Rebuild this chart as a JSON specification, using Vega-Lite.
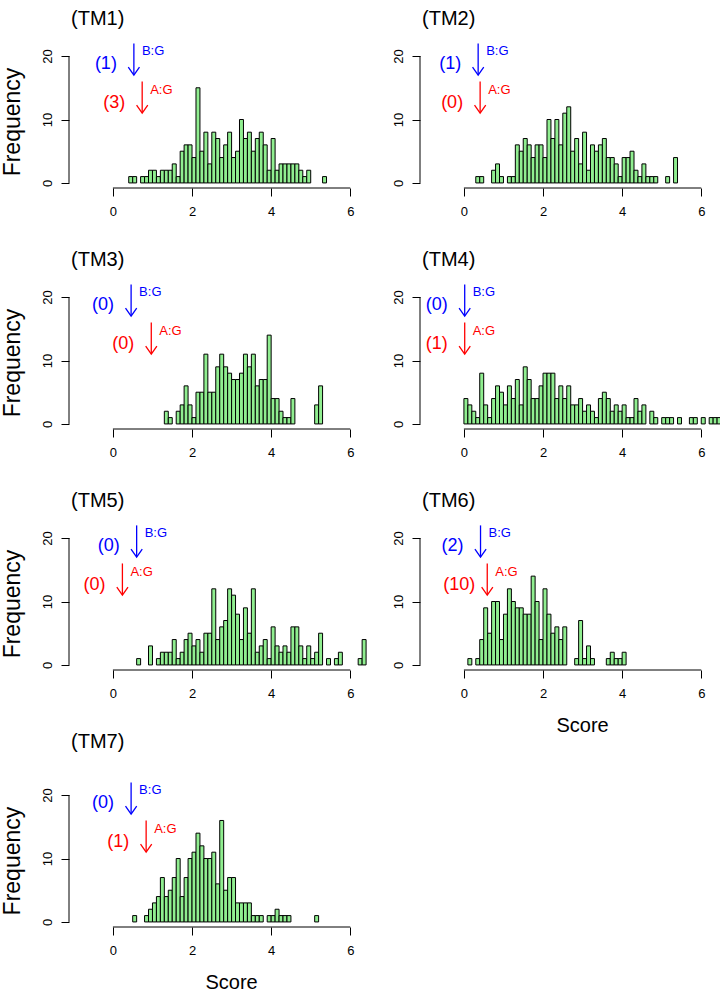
{
"$schema": "https://vega.github.io/schema/vega-lite/v6.json",
"background": "white",
"padding": {"left": 1, "top": 8, "right": 0, "bottom": 0},
"autosize": {"type": "pad"},
"config": {"font": "Liberation Sans", "view": {"stroke": null}, "text": {"baseline": "middle", "align": "center", "color": "black"}, "rule": {"color": "black", "strokeWidth": 1}, "axis": {"labelColor": "black", "tickColor": "black", "labelFont": "Liberation Sans", "grid": false, "domain": false}},
"datasets": {
"all": [
{"panel":"TM1","lo":0.4,"hi":0.5,"count":1},{"panel":"TM1","lo":0.5,"hi":0.6,"count":1},{"panel":"TM1","lo":0.7,"hi":0.8,"count":1},{"panel":"TM1","lo":0.8,"hi":0.9,"count":1},{"panel":"TM1","lo":0.9,"hi":1.0,"count":2},{"panel":"TM1","lo":1.0,"hi":1.1,"count":2},{"panel":"TM1","lo":1.1,"hi":1.2,"count":1},{"panel":"TM1","lo":1.2,"hi":1.3,"count":2},{"panel":"TM1","lo":1.3,"hi":1.4,"count":2},{"panel":"TM1","lo":1.4,"hi":1.5,"count":2},{"panel":"TM1","lo":1.5,"hi":1.6,"count":3},{"panel":"TM1","lo":1.6,"hi":1.7,"count":1},{"panel":"TM1","lo":1.7,"hi":1.8,"count":5},{"panel":"TM1","lo":1.8,"hi":1.9,"count":6},{"panel":"TM1","lo":1.9,"hi":2.0,"count":6},{"panel":"TM1","lo":2.0,"hi":2.1,"count":4},{"panel":"TM1","lo":2.1,"hi":2.2,"count":15},{"panel":"TM1","lo":2.2,"hi":2.3,"count":5},{"panel":"TM1","lo":2.3,"hi":2.4,"count":8},{"panel":"TM1","lo":2.4,"hi":2.5,"count":3},{"panel":"TM1","lo":2.5,"hi":2.6,"count":8},{"panel":"TM1","lo":2.6,"hi":2.7,"count":7},{"panel":"TM1","lo":2.7,"hi":2.8,"count":4},{"panel":"TM1","lo":2.8,"hi":2.9,"count":6},{"panel":"TM1","lo":2.9,"hi":3.0,"count":8},{"panel":"TM1","lo":3.0,"hi":3.1,"count":4},{"panel":"TM1","lo":3.1,"hi":3.2,"count":5},{"panel":"TM1","lo":3.2,"hi":3.3,"count":10},{"panel":"TM1","lo":3.3,"hi":3.4,"count":7},{"panel":"TM1","lo":3.4,"hi":3.5,"count":8},{"panel":"TM1","lo":3.5,"hi":3.6,"count":5},{"panel":"TM1","lo":3.6,"hi":3.7,"count":7},{"panel":"TM1","lo":3.7,"hi":3.8,"count":8},{"panel":"TM1","lo":3.8,"hi":3.9,"count":6},{"panel":"TM1","lo":3.9,"hi":4.0,"count":2},{"panel":"TM1","lo":4.0,"hi":4.1,"count":7},{"panel":"TM1","lo":4.1,"hi":4.2,"count":2},{"panel":"TM1","lo":4.2,"hi":4.3,"count":3},{"panel":"TM1","lo":4.3,"hi":4.4,"count":3},{"panel":"TM1","lo":4.4,"hi":4.5,"count":3},{"panel":"TM1","lo":4.5,"hi":4.6,"count":3},{"panel":"TM1","lo":4.6,"hi":4.7,"count":3},{"panel":"TM1","lo":4.7,"hi":4.8,"count":2},{"panel":"TM1","lo":4.8,"hi":4.9,"count":1},{"panel":"TM1","lo":4.9,"hi":5.0,"count":2},{"panel":"TM1","lo":5.3,"hi":5.4,"count":1},
{"panel":"TM2","lo":0.3,"hi":0.4,"count":1},{"panel":"TM2","lo":0.4,"hi":0.5,"count":1},{"panel":"TM2","lo":0.7,"hi":0.8,"count":2},{"panel":"TM2","lo":0.8,"hi":0.9,"count":3},{"panel":"TM2","lo":0.9,"hi":1.0,"count":1},{"panel":"TM2","lo":1.1,"hi":1.2,"count":1},{"panel":"TM2","lo":1.2,"hi":1.3,"count":1},{"panel":"TM2","lo":1.3,"hi":1.4,"count":6},{"panel":"TM2","lo":1.4,"hi":1.5,"count":5},{"panel":"TM2","lo":1.5,"hi":1.6,"count":7},{"panel":"TM2","lo":1.6,"hi":1.7,"count":6},{"panel":"TM2","lo":1.7,"hi":1.8,"count":4},{"panel":"TM2","lo":1.8,"hi":1.9,"count":6},{"panel":"TM2","lo":1.9,"hi":2.0,"count":6},{"panel":"TM2","lo":2.0,"hi":2.1,"count":4},{"panel":"TM2","lo":2.1,"hi":2.2,"count":10},{"panel":"TM2","lo":2.2,"hi":2.3,"count":7},{"panel":"TM2","lo":2.3,"hi":2.4,"count":10},{"panel":"TM2","lo":2.4,"hi":2.5,"count":6},{"panel":"TM2","lo":2.5,"hi":2.6,"count":11},{"panel":"TM2","lo":2.6,"hi":2.7,"count":12},{"panel":"TM2","lo":2.7,"hi":2.8,"count":5},{"panel":"TM2","lo":2.8,"hi":2.9,"count":7},{"panel":"TM2","lo":2.9,"hi":3.0,"count":3},{"panel":"TM2","lo":3.0,"hi":3.1,"count":8},{"panel":"TM2","lo":3.1,"hi":3.2,"count":2},{"panel":"TM2","lo":3.2,"hi":3.3,"count":6},{"panel":"TM2","lo":3.3,"hi":3.4,"count":5},{"panel":"TM2","lo":3.4,"hi":3.5,"count":6},{"panel":"TM2","lo":3.5,"hi":3.6,"count":7},{"panel":"TM2","lo":3.6,"hi":3.7,"count":4},{"panel":"TM2","lo":3.7,"hi":3.8,"count":4},{"panel":"TM2","lo":3.8,"hi":3.9,"count":3},{"panel":"TM2","lo":3.9,"hi":4.0,"count":1},{"panel":"TM2","lo":4.0,"hi":4.1,"count":4},{"panel":"TM2","lo":4.1,"hi":4.2,"count":4},{"panel":"TM2","lo":4.2,"hi":4.3,"count":5},{"panel":"TM2","lo":4.3,"hi":4.4,"count":2},{"panel":"TM2","lo":4.4,"hi":4.5,"count":1},{"panel":"TM2","lo":4.5,"hi":4.6,"count":3},{"panel":"TM2","lo":4.6,"hi":4.7,"count":1},{"panel":"TM2","lo":4.7,"hi":4.8,"count":1},{"panel":"TM2","lo":4.8,"hi":4.9,"count":1},{"panel":"TM2","lo":5.1,"hi":5.2,"count":1},{"panel":"TM2","lo":5.3,"hi":5.4,"count":4},
{"panel":"TM3","lo":1.3,"hi":1.4,"count":2},{"panel":"TM3","lo":1.4,"hi":1.5,"count":1},{"panel":"TM3","lo":1.6,"hi":1.7,"count":2},{"panel":"TM3","lo":1.7,"hi":1.8,"count":3},{"panel":"TM3","lo":1.8,"hi":1.9,"count":6},{"panel":"TM3","lo":1.9,"hi":2.0,"count":3},{"panel":"TM3","lo":2.0,"hi":2.1,"count":1},{"panel":"TM3","lo":2.1,"hi":2.2,"count":5},{"panel":"TM3","lo":2.2,"hi":2.3,"count":5},{"panel":"TM3","lo":2.3,"hi":2.4,"count":11},{"panel":"TM3","lo":2.4,"hi":2.5,"count":5},{"panel":"TM3","lo":2.5,"hi":2.6,"count":5},{"panel":"TM3","lo":2.6,"hi":2.7,"count":9},{"panel":"TM3","lo":2.7,"hi":2.8,"count":11},{"panel":"TM3","lo":2.8,"hi":2.9,"count":9},{"panel":"TM3","lo":2.9,"hi":3.0,"count":8},{"panel":"TM3","lo":3.0,"hi":3.1,"count":7},{"panel":"TM3","lo":3.1,"hi":3.2,"count":7},{"panel":"TM3","lo":3.2,"hi":3.3,"count":8},{"panel":"TM3","lo":3.3,"hi":3.4,"count":11},{"panel":"TM3","lo":3.4,"hi":3.5,"count":9},{"panel":"TM3","lo":3.5,"hi":3.6,"count":11},{"panel":"TM3","lo":3.6,"hi":3.7,"count":6},{"panel":"TM3","lo":3.7,"hi":3.8,"count":7},{"panel":"TM3","lo":3.8,"hi":3.9,"count":7},{"panel":"TM3","lo":3.9,"hi":4.0,"count":14},{"panel":"TM3","lo":4.0,"hi":4.1,"count":4},{"panel":"TM3","lo":4.1,"hi":4.2,"count":4},{"panel":"TM3","lo":4.2,"hi":4.3,"count":2},{"panel":"TM3","lo":4.3,"hi":4.4,"count":1},{"panel":"TM3","lo":4.4,"hi":4.5,"count":1},{"panel":"TM3","lo":4.5,"hi":4.6,"count":4},{"panel":"TM3","lo":5.1,"hi":5.2,"count":3},{"panel":"TM3","lo":5.2,"hi":5.3,"count":6},
{"panel":"TM4","lo":0.0,"hi":0.1,"count":4},{"panel":"TM4","lo":0.1,"hi":0.2,"count":3},{"panel":"TM4","lo":0.2,"hi":0.3,"count":2},{"panel":"TM4","lo":0.3,"hi":0.4,"count":1},{"panel":"TM4","lo":0.4,"hi":0.5,"count":8},{"panel":"TM4","lo":0.5,"hi":0.6,"count":3},{"panel":"TM4","lo":0.6,"hi":0.7,"count":1},{"panel":"TM4","lo":0.7,"hi":0.8,"count":4},{"panel":"TM4","lo":0.8,"hi":0.9,"count":6},{"panel":"TM4","lo":0.9,"hi":1.0,"count":5},{"panel":"TM4","lo":1.0,"hi":1.1,"count":3},{"panel":"TM4","lo":1.1,"hi":1.2,"count":6},{"panel":"TM4","lo":1.2,"hi":1.3,"count":4},{"panel":"TM4","lo":1.3,"hi":1.4,"count":7},{"panel":"TM4","lo":1.4,"hi":1.5,"count":3},{"panel":"TM4","lo":1.5,"hi":1.6,"count":9},{"panel":"TM4","lo":1.6,"hi":1.7,"count":7},{"panel":"TM4","lo":1.7,"hi":1.8,"count":4},{"panel":"TM4","lo":1.8,"hi":1.9,"count":4},{"panel":"TM4","lo":1.9,"hi":2.0,"count":6},{"panel":"TM4","lo":2.0,"hi":2.1,"count":8},{"panel":"TM4","lo":2.1,"hi":2.2,"count":8},{"panel":"TM4","lo":2.2,"hi":2.3,"count":8},{"panel":"TM4","lo":2.3,"hi":2.4,"count":4},{"panel":"TM4","lo":2.4,"hi":2.5,"count":6},{"panel":"TM4","lo":2.5,"hi":2.6,"count":4},{"panel":"TM4","lo":2.6,"hi":2.7,"count":6},{"panel":"TM4","lo":2.7,"hi":2.8,"count":3},{"panel":"TM4","lo":2.8,"hi":2.9,"count":3},{"panel":"TM4","lo":2.9,"hi":3.0,"count":4},{"panel":"TM4","lo":3.0,"hi":3.1,"count":2},{"panel":"TM4","lo":3.1,"hi":3.2,"count":3},{"panel":"TM4","lo":3.2,"hi":3.3,"count":2},{"panel":"TM4","lo":3.3,"hi":3.4,"count":1},{"panel":"TM4","lo":3.4,"hi":3.5,"count":4},{"panel":"TM4","lo":3.5,"hi":3.6,"count":5},{"panel":"TM4","lo":3.6,"hi":3.7,"count":4},{"panel":"TM4","lo":3.7,"hi":3.8,"count":2},{"panel":"TM4","lo":3.8,"hi":3.9,"count":3},{"panel":"TM4","lo":3.9,"hi":4.0,"count":2},{"panel":"TM4","lo":4.0,"hi":4.1,"count":3},{"panel":"TM4","lo":4.1,"hi":4.2,"count":1},{"panel":"TM4","lo":4.2,"hi":4.3,"count":1},{"panel":"TM4","lo":4.3,"hi":4.4,"count":4},{"panel":"TM4","lo":4.4,"hi":4.5,"count":2},{"panel":"TM4","lo":4.5,"hi":4.6,"count":3},{"panel":"TM4","lo":4.7,"hi":4.8,"count":2},{"panel":"TM4","lo":4.8,"hi":4.9,"count":1},{"panel":"TM4","lo":5.0,"hi":5.1,"count":1},{"panel":"TM4","lo":5.1,"hi":5.2,"count":1},{"panel":"TM4","lo":5.2,"hi":5.3,"count":1},{"panel":"TM4","lo":5.4,"hi":5.5,"count":1},{"panel":"TM4","lo":5.7,"hi":5.8,"count":1},{"panel":"TM4","lo":5.8,"hi":5.9,"count":1},{"panel":"TM4","lo":6.0,"hi":6.1,"count":1},{"panel":"TM4","lo":6.2,"hi":6.3,"count":1},{"panel":"TM4","lo":6.3,"hi":6.4,"count":1},{"panel":"TM4","lo":6.4,"hi":6.5,"count":1},
{"panel":"TM5","lo":0.6,"hi":0.7,"count":1},{"panel":"TM5","lo":0.9,"hi":1.0,"count":3},{"panel":"TM5","lo":1.1,"hi":1.2,"count":1},{"panel":"TM5","lo":1.2,"hi":1.3,"count":2},{"panel":"TM5","lo":1.3,"hi":1.4,"count":2},{"panel":"TM5","lo":1.4,"hi":1.5,"count":2},{"panel":"TM5","lo":1.5,"hi":1.6,"count":4},{"panel":"TM5","lo":1.6,"hi":1.7,"count":1},{"panel":"TM5","lo":1.7,"hi":1.8,"count":2},{"panel":"TM5","lo":1.8,"hi":1.9,"count":4},{"panel":"TM5","lo":1.9,"hi":2.0,"count":5},{"panel":"TM5","lo":2.0,"hi":2.1,"count":3},{"panel":"TM5","lo":2.1,"hi":2.2,"count":4},{"panel":"TM5","lo":2.2,"hi":2.3,"count":2},{"panel":"TM5","lo":2.3,"hi":2.4,"count":5},{"panel":"TM5","lo":2.4,"hi":2.5,"count":5},{"panel":"TM5","lo":2.5,"hi":2.6,"count":12},{"panel":"TM5","lo":2.6,"hi":2.7,"count":4},{"panel":"TM5","lo":2.7,"hi":2.8,"count":6},{"panel":"TM5","lo":2.8,"hi":2.9,"count":7},{"panel":"TM5","lo":2.9,"hi":3.0,"count":12},{"panel":"TM5","lo":3.0,"hi":3.1,"count":11},{"panel":"TM5","lo":3.1,"hi":3.2,"count":8},{"panel":"TM5","lo":3.2,"hi":3.3,"count":4},{"panel":"TM5","lo":3.3,"hi":3.4,"count":9},{"panel":"TM5","lo":3.4,"hi":3.5,"count":5},{"panel":"TM5","lo":3.5,"hi":3.6,"count":12},{"panel":"TM5","lo":3.6,"hi":3.7,"count":2},{"panel":"TM5","lo":3.7,"hi":3.8,"count":3},{"panel":"TM5","lo":3.8,"hi":3.9,"count":4},{"panel":"TM5","lo":3.9,"hi":4.0,"count":1},{"panel":"TM5","lo":4.0,"hi":4.1,"count":6},{"panel":"TM5","lo":4.1,"hi":4.2,"count":3},{"panel":"TM5","lo":4.2,"hi":4.3,"count":2},{"panel":"TM5","lo":4.3,"hi":4.4,"count":3},{"panel":"TM5","lo":4.4,"hi":4.5,"count":2},{"panel":"TM5","lo":4.5,"hi":4.6,"count":6},{"panel":"TM5","lo":4.6,"hi":4.7,"count":6},{"panel":"TM5","lo":4.7,"hi":4.8,"count":3},{"panel":"TM5","lo":4.8,"hi":4.9,"count":1},{"panel":"TM5","lo":4.9,"hi":5.0,"count":3},{"panel":"TM5","lo":5.0,"hi":5.1,"count":1},{"panel":"TM5","lo":5.1,"hi":5.2,"count":2},{"panel":"TM5","lo":5.2,"hi":5.3,"count":5},{"panel":"TM5","lo":5.4,"hi":5.5,"count":1},{"panel":"TM5","lo":5.6,"hi":5.7,"count":1},{"panel":"TM5","lo":5.7,"hi":5.8,"count":2},{"panel":"TM5","lo":6.2,"hi":6.3,"count":1},{"panel":"TM5","lo":6.3,"hi":6.4,"count":4},
{"panel":"TM6","lo":0.1,"hi":0.2,"count":1},{"panel":"TM6","lo":0.3,"hi":0.4,"count":1},{"panel":"TM6","lo":0.4,"hi":0.5,"count":4},{"panel":"TM6","lo":0.5,"hi":0.6,"count":9},{"panel":"TM6","lo":0.6,"hi":0.7,"count":5},{"panel":"TM6","lo":0.7,"hi":0.8,"count":10},{"panel":"TM6","lo":0.8,"hi":0.9,"count":10},{"panel":"TM6","lo":0.9,"hi":1.0,"count":4},{"panel":"TM6","lo":1.0,"hi":1.1,"count":8},{"panel":"TM6","lo":1.1,"hi":1.2,"count":12},{"panel":"TM6","lo":1.2,"hi":1.3,"count":10},{"panel":"TM6","lo":1.3,"hi":1.4,"count":9},{"panel":"TM6","lo":1.4,"hi":1.5,"count":9},{"panel":"TM6","lo":1.5,"hi":1.6,"count":8},{"panel":"TM6","lo":1.6,"hi":1.7,"count":8},{"panel":"TM6","lo":1.7,"hi":1.8,"count":14},{"panel":"TM6","lo":1.8,"hi":1.9,"count":10},{"panel":"TM6","lo":1.9,"hi":2.0,"count":4},{"panel":"TM6","lo":2.0,"hi":2.1,"count":12},{"panel":"TM6","lo":2.1,"hi":2.2,"count":8},{"panel":"TM6","lo":2.2,"hi":2.3,"count":5},{"panel":"TM6","lo":2.3,"hi":2.4,"count":6},{"panel":"TM6","lo":2.4,"hi":2.5,"count":4},{"panel":"TM6","lo":2.5,"hi":2.6,"count":6},{"panel":"TM6","lo":2.8,"hi":2.9,"count":1},{"panel":"TM6","lo":2.9,"hi":3.0,"count":7},{"panel":"TM6","lo":3.0,"hi":3.1,"count":1},{"panel":"TM6","lo":3.1,"hi":3.2,"count":3},{"panel":"TM6","lo":3.2,"hi":3.3,"count":1},{"panel":"TM6","lo":3.6,"hi":3.7,"count":1},{"panel":"TM6","lo":3.7,"hi":3.8,"count":2},{"panel":"TM6","lo":3.8,"hi":3.9,"count":1},{"panel":"TM6","lo":3.9,"hi":4.0,"count":1},{"panel":"TM6","lo":4.0,"hi":4.1,"count":2},
{"panel":"TM7","lo":0.5,"hi":0.6,"count":1},{"panel":"TM7","lo":0.8,"hi":0.9,"count":1},{"panel":"TM7","lo":0.9,"hi":1.0,"count":2},{"panel":"TM7","lo":1.0,"hi":1.1,"count":3},{"panel":"TM7","lo":1.1,"hi":1.2,"count":4},{"panel":"TM7","lo":1.2,"hi":1.3,"count":7},{"panel":"TM7","lo":1.3,"hi":1.4,"count":4},{"panel":"TM7","lo":1.4,"hi":1.5,"count":5},{"panel":"TM7","lo":1.5,"hi":1.6,"count":7},{"panel":"TM7","lo":1.6,"hi":1.7,"count":10},{"panel":"TM7","lo":1.7,"hi":1.8,"count":4},{"panel":"TM7","lo":1.8,"hi":1.9,"count":7},{"panel":"TM7","lo":1.9,"hi":2.0,"count":10},{"panel":"TM7","lo":2.0,"hi":2.1,"count":11},{"panel":"TM7","lo":2.1,"hi":2.2,"count":14},{"panel":"TM7","lo":2.2,"hi":2.3,"count":12},{"panel":"TM7","lo":2.3,"hi":2.4,"count":10},{"panel":"TM7","lo":2.4,"hi":2.5,"count":10},{"panel":"TM7","lo":2.5,"hi":2.6,"count":11},{"panel":"TM7","lo":2.6,"hi":2.7,"count":6},{"panel":"TM7","lo":2.7,"hi":2.8,"count":16},{"panel":"TM7","lo":2.8,"hi":2.9,"count":5},{"panel":"TM7","lo":2.9,"hi":3.0,"count":7},{"panel":"TM7","lo":3.0,"hi":3.1,"count":7},{"panel":"TM7","lo":3.1,"hi":3.2,"count":3},{"panel":"TM7","lo":3.2,"hi":3.3,"count":3},{"panel":"TM7","lo":3.3,"hi":3.4,"count":3},{"panel":"TM7","lo":3.4,"hi":3.5,"count":3},{"panel":"TM7","lo":3.5,"hi":3.6,"count":1},{"panel":"TM7","lo":3.6,"hi":3.7,"count":1},{"panel":"TM7","lo":3.7,"hi":3.8,"count":1},{"panel":"TM7","lo":3.9,"hi":4.0,"count":1},{"panel":"TM7","lo":4.0,"hi":4.1,"count":1},{"panel":"TM7","lo":4.1,"hi":4.2,"count":2},{"panel":"TM7","lo":4.2,"hi":4.3,"count":1},{"panel":"TM7","lo":4.3,"hi":4.4,"count":1},{"panel":"TM7","lo":4.4,"hi":4.5,"count":1},{"panel":"TM7","lo":5.1,"hi":5.2,"count":1},
{"panel":"TM1","kind":"title","label":"(TM1)"},{"panel":"TM2","kind":"title","label":"(TM2)"},{"panel":"TM3","kind":"title","label":"(TM3)"},{"panel":"TM4","kind":"title","label":"(TM4)"},{"panel":"TM5","kind":"title","label":"(TM5)"},{"panel":"TM6","kind":"title","label":"(TM6)"},{"panel":"TM7","kind":"title","label":"(TM7)"},
{"panel":"TM1","kind":"ylab","label":"Frequency"},{"panel":"TM3","kind":"ylab","label":"Frequency"},{"panel":"TM5","kind":"ylab","label":"Frequency"},{"panel":"TM7","kind":"ylab","label":"Frequency"},
{"panel":"TM6","kind":"xlab","label":"Score"},{"panel":"TM7","kind":"xlab","label":"Score"},
{"panel":"TM1","kind":"B","x":0.53,"label":"(1)"},{"panel":"TM1","kind":"A","x":0.74,"label":"(3)"},
{"panel":"TM2","kind":"B","x":0.36,"label":"(1)"},{"panel":"TM2","kind":"A","x":0.41,"label":"(0)"},
{"panel":"TM3","kind":"B","x":0.46,"label":"(0)"},{"panel":"TM3","kind":"A","x":0.97,"label":"(0)"},
{"panel":"TM4","kind":"B","x":0.02,"label":"(0)"},{"panel":"TM4","kind":"A","x":0.02,"label":"(1)"},
{"panel":"TM5","kind":"B","x":0.6,"label":"(0)"},{"panel":"TM5","kind":"A","x":0.24,"label":"(0)"},
{"panel":"TM6","kind":"B","x":0.42,"label":"(2)"},{"panel":"TM6","kind":"A","x":0.59,"label":"(10)"},
{"panel":"TM7","kind":"B","x":0.46,"label":"(0)"},{"panel":"TM7","kind":"A","x":0.84,"label":"(1)"}
]
},
"bounds": "flush",
"align": "each",
"columns": 2,
"spacing": {"row": 104, "column": 46},
"concat": [
{"data":{"name":"all"},"transform":[{"filter":"datum.panel === 'TM1'"}],"width":305,"height":137,"layer":[
 {"transform":[{"filter":"isValid(datum.count)"}],"mark":{"type":"rect","fill":"#90EE90","stroke":"black","strokeWidth":1},"encoding":{"x":{"field":"lo","type":"quantitative","scale":{"domain":[-1.11,6.6],"nice":false,"zero":false},"axis":{"values":[0,2,4,6],"tickSize":8,"labelFontSize":13,"labelPadding":9,"title":null,"labelFlush":false}},"x2":{"field":"hi"},"y":{"field":"count","type":"quantitative","scale":{"domain":[-0.8,20.8],"nice":false,"zero":false},"axis":{"values":[0,5,10,15,20],"tickSize":8,"labelFontSize":13,"labelAngle":270,"labelAlign":"center","labelBaseline":"bottom","labelPadding":7,"title":null}},"y2":{"datum":0}}},
 {"transform":[{"filter":"datum.kind === 'title'"}],"mark":"rule","encoding":{"x":{"datum":0,"type":"quantitative"},"x2":{"datum":6},"y":{"datum":-0.8,"type":"quantitative"}}},
 {"transform":[{"filter":"datum.kind === 'title'"}],"mark":"rule","encoding":{"x":{"datum":-1.11,"type":"quantitative"},"y":{"datum":0,"type":"quantitative"},"y2":{"datum":20}}},
 {"transform":[{"filter":"datum.kind === 'title'"}],"mark":{"type":"text","fontSize":20,"align":"left","dx":2},"encoding":{"x":{"datum":-1.11,"type":"quantitative"},"y":{"datum":25.9,"type":"quantitative"},"text":{"field":"label"}}},
 {"transform":[{"filter":"datum.kind === 'ylab'"}],"mark":{"type":"text","fontSize":23,"angle":270},"encoding":{"x":{"datum":-2.53,"type":"quantitative"},"y":{"datum":9.6,"type":"quantitative"},"text":{"field":"label"}}},
 {"transform":[{"filter":"datum.kind === 'B'"}],"layer":[
  {"mark":{"type":"rule","color":"#0000FF","strokeWidth":1.3},"encoding":{"x":{"field":"x","type":"quantitative"},"y":{"datum":22},"y2":{"datum":17.1}}},
  {"mark":{"type":"point","shape":"M-0.7,-1L0,0L0.7,-1","filled":false,"size":256,"strokeWidth":1.3,"color":"#0000FF","opacity":1},"encoding":{"x":{"field":"x","type":"quantitative"},"y":{"datum":17}}},
  {"mark":{"type":"text","color":"#0000FF","fontSize":18,"dx":-28},"encoding":{"x":{"field":"x","type":"quantitative"},"y":{"datum":18.7},"text":{"field":"label"}}},
  {"mark":{"type":"text","color":"#0000FF","fontSize":13,"align":"left","dx":8},"encoding":{"x":{"field":"x","type":"quantitative"},"y":{"datum":20.8},"text":{"value":"B:G"}}}]},
 {"transform":[{"filter":"datum.kind === 'A'"}],"layer":[
  {"mark":{"type":"rule","color":"#FF0000","strokeWidth":1.3},"encoding":{"x":{"field":"x","type":"quantitative"},"y":{"datum":16},"y2":{"datum":11.1}}},
  {"mark":{"type":"point","shape":"M-0.7,-1L0,0L0.7,-1","filled":false,"size":256,"strokeWidth":1.3,"color":"#FF0000","opacity":1},"encoding":{"x":{"field":"x","type":"quantitative"},"y":{"datum":11}}},
  {"mark":{"type":"text","color":"#FF0000","fontSize":18,"dx":-28},"encoding":{"x":{"field":"x","type":"quantitative"},"y":{"datum":12.6},"text":{"field":"label"}}},
  {"mark":{"type":"text","color":"#FF0000","fontSize":13,"align":"left","dx":8},"encoding":{"x":{"field":"x","type":"quantitative"},"y":{"datum":14.7},"text":{"value":"A:G"}}}]}
]},
{"data":{"name":"all"},"transform":[{"filter":"datum.panel === 'TM2'"}],"width":305,"height":137,"layer":[
 {"transform":[{"filter":"isValid(datum.count)"}],"mark":{"type":"rect","fill":"#90EE90","stroke":"black","strokeWidth":1},"encoding":{"x":{"field":"lo","type":"quantitative","scale":{"domain":[-1.11,6.6],"nice":false,"zero":false},"axis":{"values":[0,2,4,6],"tickSize":8,"labelFontSize":13,"labelPadding":9,"title":null,"labelFlush":false}},"x2":{"field":"hi"},"y":{"field":"count","type":"quantitative","scale":{"domain":[-0.8,20.8],"nice":false,"zero":false},"axis":{"values":[0,5,10,15,20],"tickSize":8,"labelFontSize":13,"labelAngle":270,"labelAlign":"center","labelBaseline":"bottom","labelPadding":7,"title":null}},"y2":{"datum":0}}},
 {"transform":[{"filter":"datum.kind === 'title'"}],"mark":"rule","encoding":{"x":{"datum":0,"type":"quantitative"},"x2":{"datum":6},"y":{"datum":-0.8,"type":"quantitative"}}},
 {"transform":[{"filter":"datum.kind === 'title'"}],"mark":"rule","encoding":{"x":{"datum":-1.11,"type":"quantitative"},"y":{"datum":0,"type":"quantitative"},"y2":{"datum":20}}},
 {"transform":[{"filter":"datum.kind === 'title'"}],"mark":{"type":"text","fontSize":20,"align":"left","dx":2},"encoding":{"x":{"datum":-1.11,"type":"quantitative"},"y":{"datum":25.9,"type":"quantitative"},"text":{"field":"label"}}},
 {"transform":[{"filter":"datum.kind === 'B'"}],"layer":[
  {"mark":{"type":"rule","color":"#0000FF","strokeWidth":1.3},"encoding":{"x":{"field":"x","type":"quantitative"},"y":{"datum":22},"y2":{"datum":17.1}}},
  {"mark":{"type":"point","shape":"M-0.7,-1L0,0L0.7,-1","filled":false,"size":256,"strokeWidth":1.3,"color":"#0000FF","opacity":1},"encoding":{"x":{"field":"x","type":"quantitative"},"y":{"datum":17}}},
  {"mark":{"type":"text","color":"#0000FF","fontSize":18,"dx":-28},"encoding":{"x":{"field":"x","type":"quantitative"},"y":{"datum":18.7},"text":{"field":"label"}}},
  {"mark":{"type":"text","color":"#0000FF","fontSize":13,"align":"left","dx":8},"encoding":{"x":{"field":"x","type":"quantitative"},"y":{"datum":20.8},"text":{"value":"B:G"}}}]},
 {"transform":[{"filter":"datum.kind === 'A'"}],"layer":[
  {"mark":{"type":"rule","color":"#FF0000","strokeWidth":1.3},"encoding":{"x":{"field":"x","type":"quantitative"},"y":{"datum":16},"y2":{"datum":11.1}}},
  {"mark":{"type":"point","shape":"M-0.7,-1L0,0L0.7,-1","filled":false,"size":256,"strokeWidth":1.3,"color":"#FF0000","opacity":1},"encoding":{"x":{"field":"x","type":"quantitative"},"y":{"datum":11}}},
  {"mark":{"type":"text","color":"#FF0000","fontSize":18,"dx":-28},"encoding":{"x":{"field":"x","type":"quantitative"},"y":{"datum":12.6},"text":{"field":"label"}}},
  {"mark":{"type":"text","color":"#FF0000","fontSize":13,"align":"left","dx":8},"encoding":{"x":{"field":"x","type":"quantitative"},"y":{"datum":14.7},"text":{"value":"A:G"}}}]}
]},
{"data":{"name":"all"},"transform":[{"filter":"datum.panel === 'TM3'"}],"width":305,"height":137,"layer":[
 {"transform":[{"filter":"isValid(datum.count)"}],"mark":{"type":"rect","fill":"#90EE90","stroke":"black","strokeWidth":1},"encoding":{"x":{"field":"lo","type":"quantitative","scale":{"domain":[-1.11,6.6],"nice":false,"zero":false},"axis":{"values":[0,2,4,6],"tickSize":8,"labelFontSize":13,"labelPadding":9,"title":null,"labelFlush":false}},"x2":{"field":"hi"},"y":{"field":"count","type":"quantitative","scale":{"domain":[-0.8,20.8],"nice":false,"zero":false},"axis":{"values":[0,5,10,15,20],"tickSize":8,"labelFontSize":13,"labelAngle":270,"labelAlign":"center","labelBaseline":"bottom","labelPadding":7,"title":null}},"y2":{"datum":0}}},
 {"transform":[{"filter":"datum.kind === 'title'"}],"mark":"rule","encoding":{"x":{"datum":0,"type":"quantitative"},"x2":{"datum":6},"y":{"datum":-0.8,"type":"quantitative"}}},
 {"transform":[{"filter":"datum.kind === 'title'"}],"mark":"rule","encoding":{"x":{"datum":-1.11,"type":"quantitative"},"y":{"datum":0,"type":"quantitative"},"y2":{"datum":20}}},
 {"transform":[{"filter":"datum.kind === 'title'"}],"mark":{"type":"text","fontSize":20,"align":"left","dx":2},"encoding":{"x":{"datum":-1.11,"type":"quantitative"},"y":{"datum":25.9,"type":"quantitative"},"text":{"field":"label"}}},
 {"transform":[{"filter":"datum.kind === 'ylab'"}],"mark":{"type":"text","fontSize":23,"angle":270},"encoding":{"x":{"datum":-2.53,"type":"quantitative"},"y":{"datum":9.6,"type":"quantitative"},"text":{"field":"label"}}},
 {"transform":[{"filter":"datum.kind === 'B'"}],"layer":[
  {"mark":{"type":"rule","color":"#0000FF","strokeWidth":1.3},"encoding":{"x":{"field":"x","type":"quantitative"},"y":{"datum":22},"y2":{"datum":17.1}}},
  {"mark":{"type":"point","shape":"M-0.7,-1L0,0L0.7,-1","filled":false,"size":256,"strokeWidth":1.3,"color":"#0000FF","opacity":1},"encoding":{"x":{"field":"x","type":"quantitative"},"y":{"datum":17}}},
  {"mark":{"type":"text","color":"#0000FF","fontSize":18,"dx":-28},"encoding":{"x":{"field":"x","type":"quantitative"},"y":{"datum":18.7},"text":{"field":"label"}}},
  {"mark":{"type":"text","color":"#0000FF","fontSize":13,"align":"left","dx":8},"encoding":{"x":{"field":"x","type":"quantitative"},"y":{"datum":20.8},"text":{"value":"B:G"}}}]},
 {"transform":[{"filter":"datum.kind === 'A'"}],"layer":[
  {"mark":{"type":"rule","color":"#FF0000","strokeWidth":1.3},"encoding":{"x":{"field":"x","type":"quantitative"},"y":{"datum":16},"y2":{"datum":11.1}}},
  {"mark":{"type":"point","shape":"M-0.7,-1L0,0L0.7,-1","filled":false,"size":256,"strokeWidth":1.3,"color":"#FF0000","opacity":1},"encoding":{"x":{"field":"x","type":"quantitative"},"y":{"datum":11}}},
  {"mark":{"type":"text","color":"#FF0000","fontSize":18,"dx":-28},"encoding":{"x":{"field":"x","type":"quantitative"},"y":{"datum":12.6},"text":{"field":"label"}}},
  {"mark":{"type":"text","color":"#FF0000","fontSize":13,"align":"left","dx":8},"encoding":{"x":{"field":"x","type":"quantitative"},"y":{"datum":14.7},"text":{"value":"A:G"}}}]}
]},
{"data":{"name":"all"},"transform":[{"filter":"datum.panel === 'TM4'"}],"width":305,"height":137,"layer":[
 {"transform":[{"filter":"isValid(datum.count)"}],"mark":{"type":"rect","fill":"#90EE90","stroke":"black","strokeWidth":1},"encoding":{"x":{"field":"lo","type":"quantitative","scale":{"domain":[-1.11,6.6],"nice":false,"zero":false},"axis":{"values":[0,2,4,6],"tickSize":8,"labelFontSize":13,"labelPadding":9,"title":null,"labelFlush":false}},"x2":{"field":"hi"},"y":{"field":"count","type":"quantitative","scale":{"domain":[-0.8,20.8],"nice":false,"zero":false},"axis":{"values":[0,5,10,15,20],"tickSize":8,"labelFontSize":13,"labelAngle":270,"labelAlign":"center","labelBaseline":"bottom","labelPadding":7,"title":null}},"y2":{"datum":0}}},
 {"transform":[{"filter":"datum.kind === 'title'"}],"mark":"rule","encoding":{"x":{"datum":0,"type":"quantitative"},"x2":{"datum":6},"y":{"datum":-0.8,"type":"quantitative"}}},
 {"transform":[{"filter":"datum.kind === 'title'"}],"mark":"rule","encoding":{"x":{"datum":-1.11,"type":"quantitative"},"y":{"datum":0,"type":"quantitative"},"y2":{"datum":20}}},
 {"transform":[{"filter":"datum.kind === 'title'"}],"mark":{"type":"text","fontSize":20,"align":"left","dx":2},"encoding":{"x":{"datum":-1.11,"type":"quantitative"},"y":{"datum":25.9,"type":"quantitative"},"text":{"field":"label"}}},
 {"transform":[{"filter":"datum.kind === 'B'"}],"layer":[
  {"mark":{"type":"rule","color":"#0000FF","strokeWidth":1.3},"encoding":{"x":{"field":"x","type":"quantitative"},"y":{"datum":22},"y2":{"datum":17.1}}},
  {"mark":{"type":"point","shape":"M-0.7,-1L0,0L0.7,-1","filled":false,"size":256,"strokeWidth":1.3,"color":"#0000FF","opacity":1},"encoding":{"x":{"field":"x","type":"quantitative"},"y":{"datum":17}}},
  {"mark":{"type":"text","color":"#0000FF","fontSize":18,"dx":-28},"encoding":{"x":{"field":"x","type":"quantitative"},"y":{"datum":18.7},"text":{"field":"label"}}},
  {"mark":{"type":"text","color":"#0000FF","fontSize":13,"align":"left","dx":8},"encoding":{"x":{"field":"x","type":"quantitative"},"y":{"datum":20.8},"text":{"value":"B:G"}}}]},
 {"transform":[{"filter":"datum.kind === 'A'"}],"layer":[
  {"mark":{"type":"rule","color":"#FF0000","strokeWidth":1.3},"encoding":{"x":{"field":"x","type":"quantitative"},"y":{"datum":16},"y2":{"datum":11.1}}},
  {"mark":{"type":"point","shape":"M-0.7,-1L0,0L0.7,-1","filled":false,"size":256,"strokeWidth":1.3,"color":"#FF0000","opacity":1},"encoding":{"x":{"field":"x","type":"quantitative"},"y":{"datum":11}}},
  {"mark":{"type":"text","color":"#FF0000","fontSize":18,"dx":-28},"encoding":{"x":{"field":"x","type":"quantitative"},"y":{"datum":12.6},"text":{"field":"label"}}},
  {"mark":{"type":"text","color":"#FF0000","fontSize":13,"align":"left","dx":8},"encoding":{"x":{"field":"x","type":"quantitative"},"y":{"datum":14.7},"text":{"value":"A:G"}}}]}
]},
{"data":{"name":"all"},"transform":[{"filter":"datum.panel === 'TM5'"}],"width":305,"height":137,"layer":[
 {"transform":[{"filter":"isValid(datum.count)"}],"mark":{"type":"rect","fill":"#90EE90","stroke":"black","strokeWidth":1},"encoding":{"x":{"field":"lo","type":"quantitative","scale":{"domain":[-1.11,6.6],"nice":false,"zero":false},"axis":{"values":[0,2,4,6],"tickSize":8,"labelFontSize":13,"labelPadding":9,"title":null,"labelFlush":false}},"x2":{"field":"hi"},"y":{"field":"count","type":"quantitative","scale":{"domain":[-0.8,20.8],"nice":false,"zero":false},"axis":{"values":[0,5,10,15,20],"tickSize":8,"labelFontSize":13,"labelAngle":270,"labelAlign":"center","labelBaseline":"bottom","labelPadding":7,"title":null}},"y2":{"datum":0}}},
 {"transform":[{"filter":"datum.kind === 'title'"}],"mark":"rule","encoding":{"x":{"datum":0,"type":"quantitative"},"x2":{"datum":6},"y":{"datum":-0.8,"type":"quantitative"}}},
 {"transform":[{"filter":"datum.kind === 'title'"}],"mark":"rule","encoding":{"x":{"datum":-1.11,"type":"quantitative"},"y":{"datum":0,"type":"quantitative"},"y2":{"datum":20}}},
 {"transform":[{"filter":"datum.kind === 'title'"}],"mark":{"type":"text","fontSize":20,"align":"left","dx":2},"encoding":{"x":{"datum":-1.11,"type":"quantitative"},"y":{"datum":25.9,"type":"quantitative"},"text":{"field":"label"}}},
 {"transform":[{"filter":"datum.kind === 'ylab'"}],"mark":{"type":"text","fontSize":23,"angle":270},"encoding":{"x":{"datum":-2.53,"type":"quantitative"},"y":{"datum":9.6,"type":"quantitative"},"text":{"field":"label"}}},
 {"transform":[{"filter":"datum.kind === 'B'"}],"layer":[
  {"mark":{"type":"rule","color":"#0000FF","strokeWidth":1.3},"encoding":{"x":{"field":"x","type":"quantitative"},"y":{"datum":22},"y2":{"datum":17.1}}},
  {"mark":{"type":"point","shape":"M-0.7,-1L0,0L0.7,-1","filled":false,"size":256,"strokeWidth":1.3,"color":"#0000FF","opacity":1},"encoding":{"x":{"field":"x","type":"quantitative"},"y":{"datum":17}}},
  {"mark":{"type":"text","color":"#0000FF","fontSize":18,"dx":-28},"encoding":{"x":{"field":"x","type":"quantitative"},"y":{"datum":18.7},"text":{"field":"label"}}},
  {"mark":{"type":"text","color":"#0000FF","fontSize":13,"align":"left","dx":8},"encoding":{"x":{"field":"x","type":"quantitative"},"y":{"datum":20.8},"text":{"value":"B:G"}}}]},
 {"transform":[{"filter":"datum.kind === 'A'"}],"layer":[
  {"mark":{"type":"rule","color":"#FF0000","strokeWidth":1.3},"encoding":{"x":{"field":"x","type":"quantitative"},"y":{"datum":16},"y2":{"datum":11.1}}},
  {"mark":{"type":"point","shape":"M-0.7,-1L0,0L0.7,-1","filled":false,"size":256,"strokeWidth":1.3,"color":"#FF0000","opacity":1},"encoding":{"x":{"field":"x","type":"quantitative"},"y":{"datum":11}}},
  {"mark":{"type":"text","color":"#FF0000","fontSize":18,"dx":-28},"encoding":{"x":{"field":"x","type":"quantitative"},"y":{"datum":12.6},"text":{"field":"label"}}},
  {"mark":{"type":"text","color":"#FF0000","fontSize":13,"align":"left","dx":8},"encoding":{"x":{"field":"x","type":"quantitative"},"y":{"datum":14.7},"text":{"value":"A:G"}}}]}
]},
{"data":{"name":"all"},"transform":[{"filter":"datum.panel === 'TM6'"}],"width":305,"height":137,"layer":[
 {"transform":[{"filter":"isValid(datum.count)"}],"mark":{"type":"rect","fill":"#90EE90","stroke":"black","strokeWidth":1},"encoding":{"x":{"field":"lo","type":"quantitative","scale":{"domain":[-1.11,6.6],"nice":false,"zero":false},"axis":{"values":[0,2,4,6],"tickSize":8,"labelFontSize":13,"labelPadding":9,"title":null,"labelFlush":false}},"x2":{"field":"hi"},"y":{"field":"count","type":"quantitative","scale":{"domain":[-0.8,20.8],"nice":false,"zero":false},"axis":{"values":[0,5,10,15,20],"tickSize":8,"labelFontSize":13,"labelAngle":270,"labelAlign":"center","labelBaseline":"bottom","labelPadding":7,"title":null}},"y2":{"datum":0}}},
 {"transform":[{"filter":"datum.kind === 'title'"}],"mark":"rule","encoding":{"x":{"datum":0,"type":"quantitative"},"x2":{"datum":6},"y":{"datum":-0.8,"type":"quantitative"}}},
 {"transform":[{"filter":"datum.kind === 'title'"}],"mark":"rule","encoding":{"x":{"datum":-1.11,"type":"quantitative"},"y":{"datum":0,"type":"quantitative"},"y2":{"datum":20}}},
 {"transform":[{"filter":"datum.kind === 'title'"}],"mark":{"type":"text","fontSize":20,"align":"left","dx":2},"encoding":{"x":{"datum":-1.11,"type":"quantitative"},"y":{"datum":25.9,"type":"quantitative"},"text":{"field":"label"}}},
 {"transform":[{"filter":"datum.kind === 'xlab'"}],"mark":{"type":"text","fontSize":20},"encoding":{"x":{"datum":3,"type":"quantitative"},"y":{"datum":-9.7,"type":"quantitative"},"text":{"field":"label"}}},
 {"transform":[{"filter":"datum.kind === 'B'"}],"layer":[
  {"mark":{"type":"rule","color":"#0000FF","strokeWidth":1.3},"encoding":{"x":{"field":"x","type":"quantitative"},"y":{"datum":22},"y2":{"datum":17.1}}},
  {"mark":{"type":"point","shape":"M-0.7,-1L0,0L0.7,-1","filled":false,"size":256,"strokeWidth":1.3,"color":"#0000FF","opacity":1},"encoding":{"x":{"field":"x","type":"quantitative"},"y":{"datum":17}}},
  {"mark":{"type":"text","color":"#0000FF","fontSize":18,"dx":-28},"encoding":{"x":{"field":"x","type":"quantitative"},"y":{"datum":18.7},"text":{"field":"label"}}},
  {"mark":{"type":"text","color":"#0000FF","fontSize":13,"align":"left","dx":8},"encoding":{"x":{"field":"x","type":"quantitative"},"y":{"datum":20.8},"text":{"value":"B:G"}}}]},
 {"transform":[{"filter":"datum.kind === 'A'"}],"layer":[
  {"mark":{"type":"rule","color":"#FF0000","strokeWidth":1.3},"encoding":{"x":{"field":"x","type":"quantitative"},"y":{"datum":16},"y2":{"datum":11.1}}},
  {"mark":{"type":"point","shape":"M-0.7,-1L0,0L0.7,-1","filled":false,"size":256,"strokeWidth":1.3,"color":"#FF0000","opacity":1},"encoding":{"x":{"field":"x","type":"quantitative"},"y":{"datum":11}}},
  {"mark":{"type":"text","color":"#FF0000","fontSize":18,"dx":-28},"encoding":{"x":{"field":"x","type":"quantitative"},"y":{"datum":12.6},"text":{"field":"label"}}},
  {"mark":{"type":"text","color":"#FF0000","fontSize":13,"align":"left","dx":8},"encoding":{"x":{"field":"x","type":"quantitative"},"y":{"datum":14.7},"text":{"value":"A:G"}}}]}
]},
{"data":{"name":"all"},"transform":[{"filter":"datum.panel === 'TM7'"}],"width":305,"height":153,"layer":[
 {"transform":[{"filter":"isValid(datum.count)"}],"mark":{"type":"rect","fill":"#90EE90","stroke":"black","strokeWidth":1},"encoding":{"x":{"field":"lo","type":"quantitative","scale":{"domain":[-1.11,6.6],"nice":false,"zero":false},"axis":{"values":[0,2,4,6],"tickSize":8,"labelFontSize":13,"labelPadding":9,"title":null,"labelFlush":false}},"x2":{"field":"hi"},"y":{"field":"count","type":"quantitative","scale":{"domain":[-0.8,23.33],"nice":false,"zero":false},"axis":{"values":[0,5,10,15,20],"tickSize":8,"labelFontSize":13,"labelAngle":270,"labelAlign":"center","labelBaseline":"bottom","labelPadding":7,"title":null}},"y2":{"datum":0}}},
 {"transform":[{"filter":"datum.kind === 'title'"}],"mark":"rule","encoding":{"x":{"datum":0,"type":"quantitative"},"x2":{"datum":6},"y":{"datum":-0.8,"type":"quantitative"}}},
 {"transform":[{"filter":"datum.kind === 'title'"}],"mark":"rule","encoding":{"x":{"datum":-1.11,"type":"quantitative"},"y":{"datum":0,"type":"quantitative"},"y2":{"datum":20}}},
 {"transform":[{"filter":"datum.kind === 'title'"}],"mark":{"type":"text","fontSize":20,"align":"left","dx":2},"encoding":{"x":{"datum":-1.11,"type":"quantitative"},"y":{"datum":28.4,"type":"quantitative"},"text":{"field":"label"}}},
 {"transform":[{"filter":"datum.kind === 'ylab'"}],"mark":{"type":"text","fontSize":23,"angle":270},"encoding":{"x":{"datum":-2.53,"type":"quantitative"},"y":{"datum":9.6,"type":"quantitative"},"text":{"field":"label"}}},
 {"transform":[{"filter":"datum.kind === 'xlab'"}],"mark":{"type":"text","fontSize":20},"encoding":{"x":{"datum":3,"type":"quantitative"},"y":{"datum":-9.7,"type":"quantitative"},"text":{"field":"label"}}},
 {"transform":[{"filter":"datum.kind === 'B'"}],"layer":[
  {"mark":{"type":"rule","color":"#0000FF","strokeWidth":1.3},"encoding":{"x":{"field":"x","type":"quantitative"},"y":{"datum":22},"y2":{"datum":17.1}}},
  {"mark":{"type":"point","shape":"M-0.7,-1L0,0L0.7,-1","filled":false,"size":256,"strokeWidth":1.3,"color":"#0000FF","opacity":1},"encoding":{"x":{"field":"x","type":"quantitative"},"y":{"datum":17}}},
  {"mark":{"type":"text","color":"#0000FF","fontSize":18,"dx":-28},"encoding":{"x":{"field":"x","type":"quantitative"},"y":{"datum":18.7},"text":{"field":"label"}}},
  {"mark":{"type":"text","color":"#0000FF","fontSize":13,"align":"left","dx":8},"encoding":{"x":{"field":"x","type":"quantitative"},"y":{"datum":20.8},"text":{"value":"B:G"}}}]},
 {"transform":[{"filter":"datum.kind === 'A'"}],"layer":[
  {"mark":{"type":"rule","color":"#FF0000","strokeWidth":1.3},"encoding":{"x":{"field":"x","type":"quantitative"},"y":{"datum":16},"y2":{"datum":11.1}}},
  {"mark":{"type":"point","shape":"M-0.7,-1L0,0L0.7,-1","filled":false,"size":256,"strokeWidth":1.3,"color":"#FF0000","opacity":1},"encoding":{"x":{"field":"x","type":"quantitative"},"y":{"datum":11}}},
  {"mark":{"type":"text","color":"#FF0000","fontSize":18,"dx":-28},"encoding":{"x":{"field":"x","type":"quantitative"},"y":{"datum":12.6},"text":{"field":"label"}}},
  {"mark":{"type":"text","color":"#FF0000","fontSize":13,"align":"left","dx":8},"encoding":{"x":{"field":"x","type":"quantitative"},"y":{"datum":14.7},"text":{"value":"A:G"}}}]}
]}
]
}
